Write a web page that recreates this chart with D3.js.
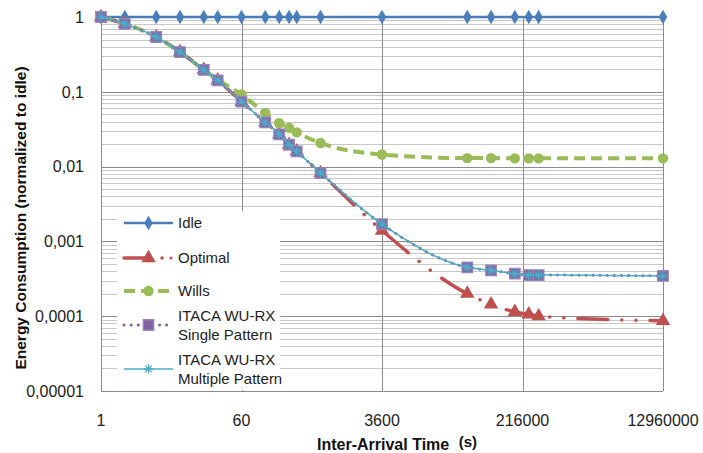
<!DOCTYPE html>
<html>
<head>
<meta charset="utf-8">
<script src="https://cdn.jsdelivr.net/npm/d3@7"></script>
<style>
  body { margin: 0; background: #fff; }
  svg { display: block; font-family: "Liberation Sans", Arial, sans-serif; }
</style>
</head>
<body>
<div id="chart"></div>
<script>
// Inter-arrival times (s)
const times = [1, 2, 5, 10, 20, 30, 60, 120, 180, 240, 300, 600, 3600, 43200, 86400, 172800, 259200, 345600, 12960000];

const idle = [1, 1, 1, 1, 1, 1, 1, 1, 1, 1, 1, 1, 1, 1, 1, 1, 1, 1, 1];
const optimal = [1, 0.81, 0.54, 0.34, 0.196, 0.142, 0.074, 0.039, 0.027, 0.0196, 0.016, 0.0082, 0.0014, 0.0002, 0.000144, 0.000114, 0.000106, 0.0001, 0.0000867];
const wills = [1, 0.81, 0.54, 0.34, 0.196, 0.145, 0.092, 0.052, 0.038, 0.033, 0.0287, 0.0207, 0.0145, 0.013, 0.013, 0.0129, 0.0129, 0.0129, 0.0129];
const itacaSingle = [1, 0.81, 0.54, 0.34, 0.196, 0.142, 0.074, 0.039, 0.027, 0.0196, 0.016, 0.0082, 0.0017, 0.00045, 0.00041, 0.00037, 0.000355, 0.000355, 0.000345];
const itacaMultiple = [1, 0.81, 0.54, 0.34, 0.196, 0.142, 0.074, 0.039, 0.027, 0.0196, 0.016, 0.0082, 0.0017, 0.00045, 0.00041, 0.00037, 0.000355, 0.000355, 0.000345];

const xTicks = [1, 60, 3600, 216000, 12960000];
const yTicks = [1, 0.1, 0.01, 0.001, 0.0001, 0.00001];
const yTickLabels = ["1", "0,1", "0,01", "0,001", "0,0001", "0,00001"];

const width = 703, height = 453;
const margin = { top: 17, right: 40, bottom: 62, left: 101 };

const svg = d3.select("#chart").append("svg")
    .attr("width", width)
    .attr("height", height);

const x = d3.scaleLog().base(60)
    .domain([1, 12960000])
    .range([margin.left, width - margin.right]);

const y = d3.scaleLog()
    .domain([0.00001, 1])
    .range([height - margin.bottom, margin.top]);

const crisp = v => Math.round(v) + 0.5;

// horizontal grid (minor + major)
const grid = svg.append("g").attr("class", "grid");
y.ticks().forEach(t => {
    const major = Math.abs(Math.log10(t) - Math.round(Math.log10(t))) < 1e-9;
    grid.append("line")
        .attr("x1", x.range()[0]).attr("x2", x.range()[1])
        .attr("y1", crisp(y(t))).attr("y2", crisp(y(t)))
        .attr("stroke", major ? "#8c8c8c" : "#c8c8c8")
        .attr("stroke-width", 1);
});

// vertical grid at major ticks
xTicks.forEach(t => {
    grid.append("line")
        .attr("x1", crisp(x(t))).attr("x2", crisp(x(t)))
        .attr("y1", y.range()[1]).attr("y2", y.range()[0])
        .attr("stroke", "#8c8c8c")
        .attr("stroke-width", 1);
});

// bottom axis line
grid.append("line")
    .attr("x1", x.range()[0]).attr("x2", x.range()[1])
    .attr("y1", crisp(y.range()[0])).attr("y2", crisp(y.range()[0]))
    .attr("stroke", "#8c8c8c");

// tick labels
svg.append("g").selectAll("text")
    .data(xTicks)
    .enter().append("text")
    .attr("x", d => x(d))
    .attr("y", 426)
    .attr("text-anchor", "middle")
    .style("font-size", "16px")
    .style("fill", "#222")
    .text(d => d);

svg.append("g").selectAll("text")
    .data(yTicks)
    .enter().append("text")
    .attr("x", 84)
    .attr("y", d => y(d))
    .attr("dy", "0.36em")
    .attr("text-anchor", "end")
    .style("font-size", "16px")
    .style("fill", "#222")
    .text((d, i) => yTickLabels[i]);

// axis titles
const xTitle = svg.append("text")
    .attr("x", 397)
    .attr("y", 450)
    .attr("text-anchor", "middle")
    .style("font-size", "16px")
    .style("font-weight", "bold")
    .style("fill", "#111");
xTitle.append("tspan").text("Inter-Arrival Time ");
xTitle.append("tspan").attr("dx", 5).attr("dy", -3).style("font-size", "15px").text("(s)");

svg.append("text")
    .attr("transform", "translate(26, 218) rotate(-90)")
    .attr("text-anchor", "middle")
    .style("font-size", "15.5px")
    .style("font-weight", "bold")
    .style("fill", "#111")
    .text("Energy Consumption  (normalized to idle)");

// custom asterisk symbol
const asterisk = {
    draw(context, size) {
        const r = Math.sqrt(size) / 2;
        for (let k = 0; k < 4; k++) {
            const a = k * Math.PI / 4;
            context.moveTo(r * Math.cos(a), r * Math.sin(a));
            context.lineTo(-r * Math.cos(a), -r * Math.sin(a));
        }
    }
};

const series = [
    { name: "Idle", values: idle, color: "#4A7EBB", width: 2.6, dash: null, cap: "butt",
      symbol: d3.symbolDiamond, size: 62, fill: "#4A7EBB", stroke: "none" },
    { name: "Optimal", values: optimal, color: "#C0504D", width: 3.5, dash: "30,14,0.1,14,0.1,14", cap: "round",
      symbol: d3.symbolTriangle, size: 90, fill: "#C0504D", stroke: "none" },
    { name: "Wills", values: wills, color: "#9BBB59", width: 4, dash: "11,6", cap: "butt",
      symbol: d3.symbolCircle, size: 85, fill: "#9BBB59", stroke: "none" },
    { name: "ITACA WU-RX|Single Pattern", values: itacaSingle, color: "#8064A2", width: 3, dash: "0.1,7", cap: "round",
      symbol: d3.symbolSquare, size: 110, fill: "#8064A2", stroke: "#9a84bb" },
    { name: "ITACA WU-RX|Multiple Pattern", values: itacaMultiple, color: "#4BACC6", width: 1.5, dash: null, cap: "butt",
      symbol: asterisk, size: 90, fill: "none", stroke: "#4BACC6" }
];

const line = d3.line()
    .x(d => x(d[0]))
    .y(d => y(d[1]))
    .curve(d3.curveMonotoneX);

series.forEach(s => {
    const pts = times.map((t, i) => [t, s.values[i]]);
    const g = svg.append("g").attr("class", "series");
    g.append("path")
        .datum(pts)
        .attr("d", line)
        .attr("fill", "none")
        .attr("stroke", s.color)
        .attr("stroke-width", s.width)
        .attr("stroke-linecap", s.cap)
        .attr("stroke-dasharray", s.dash);
    g.selectAll("path.mark")
        .data(pts)
        .enter().append("path")
        .attr("class", "mark")
        .attr("transform", d => `translate(${x(d[0])}, ${y(d[1])})`)
        .attr("d", d3.symbol().type(s.symbol).size(s.size))
        .attr("fill", s.fill)
        .attr("stroke", s.stroke)
        .attr("stroke-width", 1.3);
});

// legend
const legend = svg.append("g").attr("class", "legend");
legend.append("rect")
    .attr("x", 117).attr("y", 211)
    .attr("width", 163).attr("height", 179)
    .attr("fill", "#fff");

const legendRows = [223, 258, 291, 325, 369];
series.forEach((s, i) => {
    const row = legend.append("g").attr("transform", `translate(0, ${legendRows[i]})`);
    row.append("line")
        .attr("x1", 124).attr("x2", 173)
        .attr("y1", 0).attr("y2", 0)
        .attr("stroke", s.color)
        .attr("stroke-width", s.width)
        .attr("stroke-linecap", s.cap)
        .attr("stroke-dasharray", s.name === "Optimal" ? "26,12,0.1,100" : s.dash);
    row.append("path")
        .attr("transform", "translate(148.5, 0)")
        .attr("d", d3.symbol().type(s.symbol).size(s.size))
        .attr("fill", s.fill)
        .attr("stroke", s.stroke)
        .attr("stroke-width", 1.3);
    if (s.name === "Optimal") {
        row.append("circle").attr("cx", 171).attr("cy", 0).attr("r", 1.6).attr("fill", s.color);
    }
    const parts = s.name.split("|");
    const txt = row.append("text")
        .attr("x", 178)
        .attr("y", parts.length > 1 ? -9 : 0)
        .style("font-size", "15px")
        .style("fill", "#222");
    parts.forEach((p, j) => {
        txt.append("tspan").attr("x", 178).attr("dy", j === 0 ? "0.36em" : "19").text(p);
    });
});
</script>
</body>
</html>
